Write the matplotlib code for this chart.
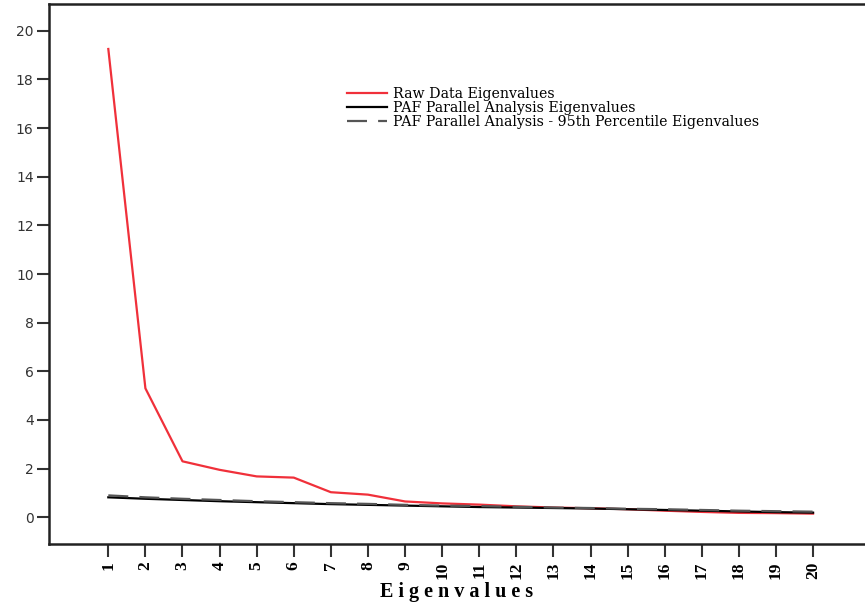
import numpy as np
import matplotlib.pyplot as plt

# eigenvalue number
factors = list(range(1, 21))
raw_eigen = [19.25, 5.3, 2.3, 1.95, 1.68, 1.63, 1.03, 0.93, 0.65, 0.57,
             0.52, 0.45, 0.40, 0.37, 0.33, 0.27, 0.22, 0.18, 0.17, 0.15]
paf_mean = [0.82, 0.76, 0.71, 0.66, 0.62, 0.58, 0.54, 0.51, 0.48, 0.45,
            0.42, 0.40, 0.38, 0.36, 0.33, 0.30, 0.27, 0.24, 0.21, 0.19]
paf_95 = [0.90, 0.82, 0.76, 0.71, 0.66, 0.62, 0.58, 0.55, 0.51, 0.48,
          0.46, 0.43, 0.40, 0.38, 0.35, 0.33, 0.30, 0.27, 0.25, 0.23]

fig = plt.figure(figsize=(8.65, 6.02), dpi=100)
ax = fig.add_axes([0.0566, 0.0963, 0.9434, 0.8971])

ax.plot(factors, raw_eigen, color='#f0303a', lw=1.6, label='Raw Data Eigenvalues')
ax.plot(factors, paf_mean, color='black', lw=1.6, label='PAF Parallel Analysis Eigenvalues')
ax.plot(factors, paf_95, color='#555555', lw=1.6, dashes=(9, 5),
        label='PAF Parallel Analysis - 95th Percentile Eigenvalues')

ax.set_xlim(-0.6, 21.4)
ax.set_ylim(-1.1, 21.1)
ax.set_yticks(range(0, 21, 2))
ax.set_xticks(factors)
ax.set_xticklabels([str(f) for f in factors], rotation=90, family='Liberation Serif',
                   fontweight='bold', fontsize=12.5)
for lab in ax.get_yticklabels():
    lab.set_family('DejaVu Sans')
    lab.set_fontsize(10)
    lab.set_color('#333333')

ax.tick_params(axis='both', direction='out', length=9, width=1.5, color='#333333')
ax.tick_params(axis='y', pad=2)
ax.spines['right'].set_visible(False)
for s in ['left', 'bottom', 'top']:
    ax.spines[s].set_linewidth(1.8)
    ax.spines[s].set_color('#222222')

ax.set_xlabel('E i g e n v a l u e s', family='Liberation Serif', fontweight='bold',
              fontsize=14.5, labelpad=2)

leg = ax.legend(loc='upper left', bbox_to_anchor=(0.35, 0.87), frameon=False,
                prop={'family': 'DejaVu Serif', 'size': 10.2},
                handlelength=2.8, handletextpad=0.4, labelspacing=0.0)

fig.savefig('out.png', dpi=100)
